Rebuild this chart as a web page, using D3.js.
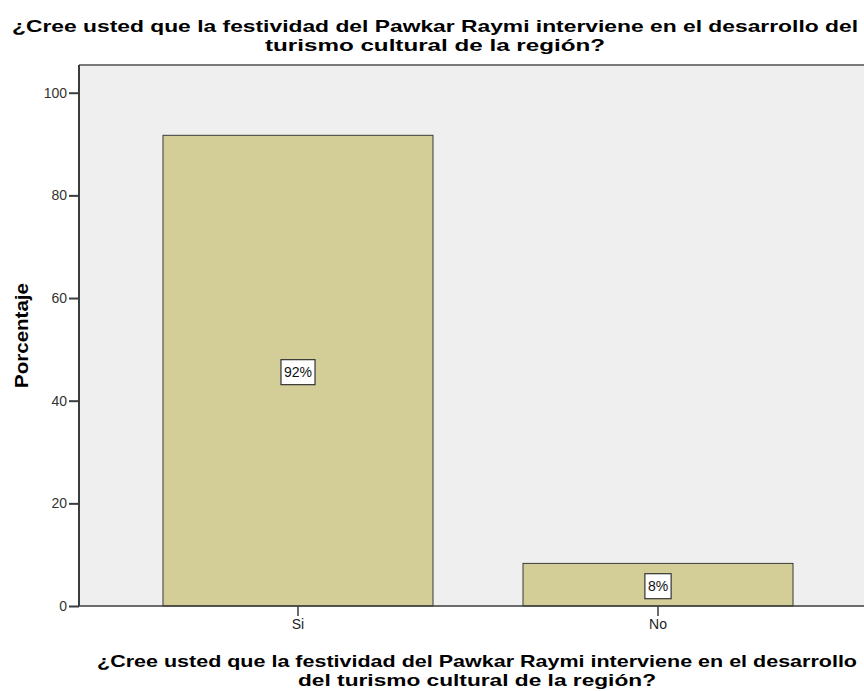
<!DOCTYPE html>
<html>
<head>
<meta charset="utf-8">
<script src="https://cdn.jsdelivr.net/npm/d3@7"></script>
<style>
  body { margin: 0; background: #fff; }
  text { font-family: "Liberation Sans", Arial, sans-serif; }
</style>
</head>
<body>
<div id="chart"></div>
<script>
const categories = ["Si", "No"];
const values = [91.7, 8.3];
const valueLabels = ["92%", "8%"];
const yTicks = [0, 20, 40, 60, 80, 100];
const titleLines = [
  "¿Cree usted que la festividad del Pawkar Raymi interviene en el desarrollo del",
  "turismo cultural de la región?"
];
const xTitleLines = [
  "¿Cree usted que la festividad del Pawkar Raymi interviene en el desarrollo",
  "del turismo cultural de la región?"
];
const yTitle = "Porcentaje";

const width = 864, height = 691;
const plot = { left: 79, right: 877, top: 65, bottom: 606 };

const svg = d3.select("#chart").append("svg")
  .attr("width", width)
  .attr("height", height);

// scales
const x = d3.scaleBand()
  .domain(categories)
  .range([plot.left, plot.right])
  .paddingInner(0.25)
  .paddingOuter(0.2333);

const y = d3.scaleLinear()
  .domain([0, 105.4])
  .range([plot.bottom, plot.top]);

// plot background
svg.append("rect")
  .attr("x", plot.left)
  .attr("y", plot.top)
  .attr("width", plot.right - plot.left)
  .attr("height", plot.bottom - plot.top)
  .attr("fill", "#efefef");

// top frame line
svg.append("line")
  .attr("x1", plot.left).attr("x2", plot.right)
  .attr("y1", plot.top).attr("y2", plot.top)
  .attr("stroke", "#7a7a7a")
  .attr("stroke-width", 2);

// bars
svg.selectAll("rect.bar")
  .data(values)
  .enter()
  .append("rect")
  .attr("class", "bar")
  .attr("x", (d, i) => x(categories[i]))
  .attr("y", (d) => y(d))
  .attr("width", x.bandwidth())
  .attr("height", (d) => y(0) - y(d))
  .attr("fill", "#d3ce97")
  .attr("stroke", "#3a3a3a")
  .attr("stroke-width", 1);

// value labels with boxes
const lab = svg.selectAll("g.lab")
  .data(values)
  .enter()
  .append("g")
  .attr("class", "lab")
  .attr("transform", (d, i) =>
    `translate(${x(categories[i]) + x.bandwidth() / 2},${(y(0) + y(d)) / 2 + 1})`);

lab.append("text")
  .attr("text-anchor", "middle")
  .attr("dy", "0.36em")
  .attr("font-size", 14)
  .attr("fill", "#111")
  .text((d, i) => valueLabels[i]);

lab.each(function () {
  const g = d3.select(this);
  const bb = g.select("text").node().getBBox();
  g.insert("rect", "text")
    .attr("x", bb.x - 3)
    .attr("y", -12)
    .attr("width", bb.width + 6)
    .attr("height", 25)
    .attr("fill", "#fff")
    .attr("stroke", "#333")
    .attr("stroke-width", 1.2);
});

// y axis
const yAxis = svg.append("g")
  .attr("transform", `translate(${plot.left},0)`)
  .call(d3.axisLeft(y).tickValues(yTicks).tickSize(10).tickPadding(2));
yAxis.select(".domain")
  .attr("d", `M0,${plot.top}V${plot.bottom}`)
  .attr("stroke", "#3c3c3c")
  .attr("stroke-width", 2);
yAxis.selectAll(".tick line").attr("stroke", "#3c3c3c").attr("stroke-width", 2);
yAxis.selectAll(".tick text")
  .attr("font-size", 14)
  .attr("fill", "#333")
  .style("font-family", "'Liberation Sans', Arial, sans-serif");

// x axis
const xAxis = svg.append("g")
  .attr("transform", `translate(0,${plot.bottom})`)
  .call(d3.axisBottom(x).tickSize(10).tickPadding(3));
xAxis.select(".domain")
  .attr("d", `M${plot.left},0H${width}`)
  .attr("stroke", "#3c3c3c")
  .attr("stroke-width", 1.5);
xAxis.selectAll(".tick line").attr("stroke", "#3c3c3c").attr("stroke-width", 1.5);
xAxis.selectAll(".tick text")
  .attr("font-size", 14)
  .attr("fill", "#222")
  .style("font-family", "'Liberation Sans', Arial, sans-serif");

// two-line bold title, one text per line
function twoLineTitle(lines, cx, y0, lengths, size, gap) {
  lines.forEach((line, i) => {
    svg.append("text")
      .attr("text-anchor", "middle")
      .attr("font-size", size)
      .attr("font-weight", "bold")
      .attr("x", cx)
      .attr("y", y0 + i * gap)
      .attr("textLength", lengths[i])
      .attr("lengthAdjust", "spacingAndGlyphs")
      .text(line);
  });
}

twoLineTitle(titleLines, 435, 32, [846, 340], 16.5, 18.5);
twoLineTitle(xTitleLines, 477, 667, [760, 358], 16.5, 18.5);

// y axis title
svg.append("text")
  .attr("transform", `translate(28,${(plot.top + plot.bottom) / 2}) rotate(-90)`)
  .attr("text-anchor", "middle")
  .attr("font-size", 18)
  .attr("font-weight", "bold")
  .attr("textLength", 105)
  .attr("lengthAdjust", "spacingAndGlyphs")
  .text(yTitle);
</script>
</body>
</html>
